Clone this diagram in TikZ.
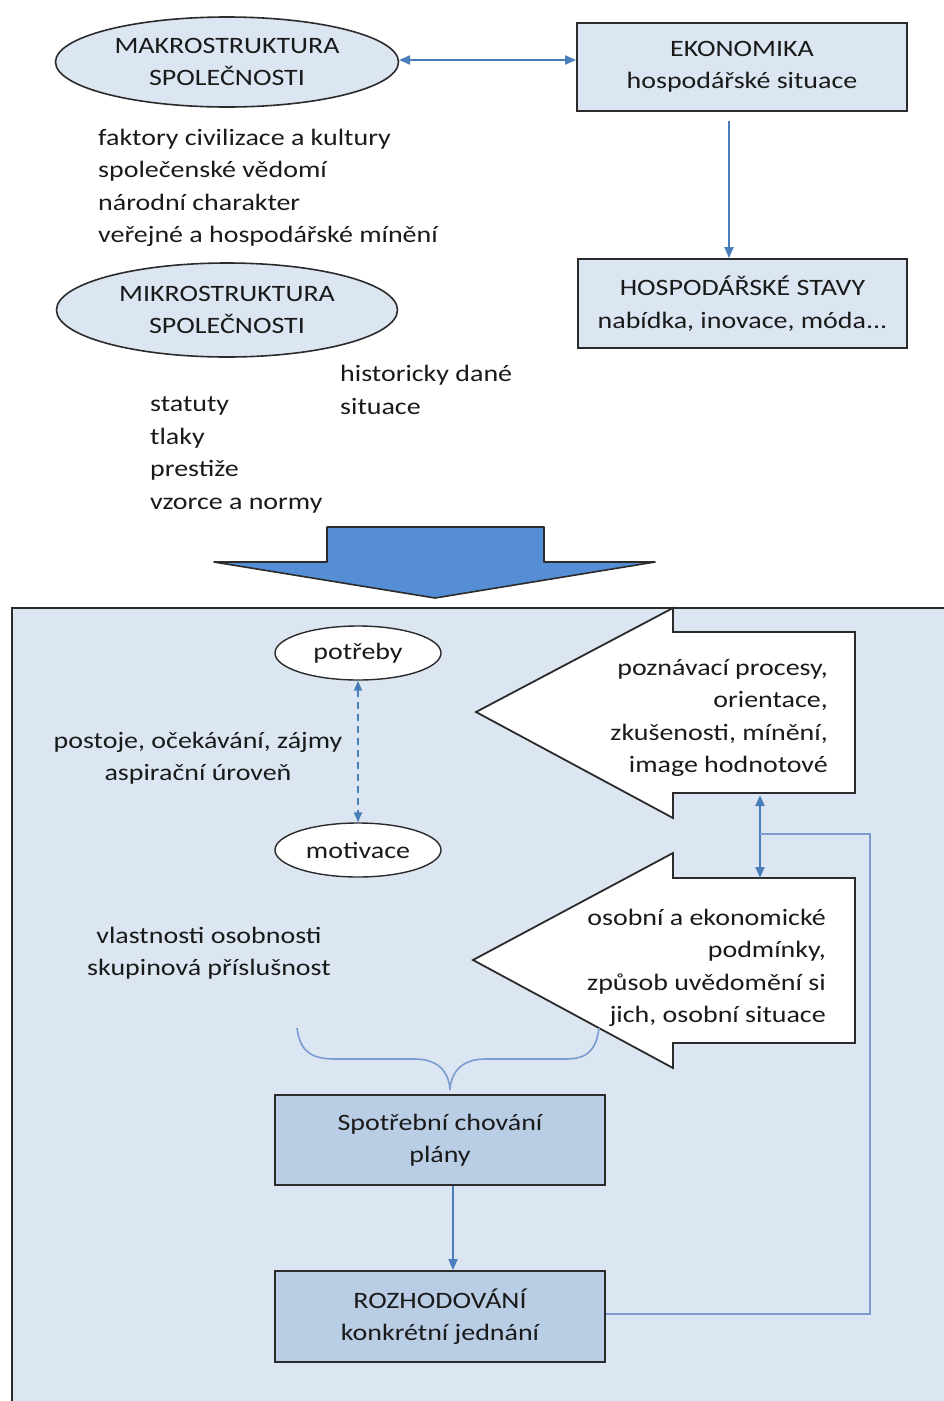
\documentclass[tikz,border=0pt]{standalone}
\usepackage{fontspec}
\setmainfont[FakeStretch=1.19]{Carlito}
\usetikzlibrary{shapes.geometric,arrows.meta}
\definecolor{paleblue}{HTML}{DCE6F2}
\definecolor{midblue}{HTML}{B9CDE5}
\definecolor{linkblue}{HTML}{4A7EBB}
\definecolor{thinblue}{HTML}{7A9CD0}
\definecolor{bigarrow}{HTML}{558ED5}
\definecolor{edge}{HTML}{2B2B2B}
\definecolor{ink}{HTML}{1A1A1A}
\tikzset{
  txt/.style={font=\fontsize{23.5}{32.5}\selectfont, text=ink, inner sep=0pt},
  oval/.style={ellipse, draw=edge, line width=1.6pt, fill=paleblue, txt, align=center},
  whiteoval/.style={ellipse, draw=edge, line width=1.4pt, fill=white, txt, minimum width=166pt, minimum height=54pt},
  panel/.style={rectangle, draw=edge, line width=1.8pt, fill=paleblue, txt, align=center},
  darkpanel/.style={panel, fill=midblue},
  link/.style={draw=linkblue, line width=2pt, -{Triangle[length=11pt,width=9pt]}},
  biglink/.style={draw=linkblue, line width=2pt, {Triangle[length=11pt,width=9pt]}-{Triangle[length=11pt,width=9pt]}},
  headarrow/.style={draw=edge, line width=1.8pt, fill=white, line join=miter}
}
\begin{document}
\begin{tikzpicture}[x=1pt, y=-1pt]
\useasboundingbox (0,0) rectangle (944,1401);
\fill[white] (0,0) rectangle (944,1401);

% upper part: society and economy
\node[oval, minimum width=343pt, minimum height=90pt] (makro) at (227,62)
  {\fontsize{23.5}{30}\selectfont MAKROSTRUKTURA\\SPOLEČNOSTI};
\node[panel, minimum width=330pt, minimum height=88pt] (ekon) at (742,67)
  {\fontsize{23.5}{33}\selectfont EKONOMIKA\\hospodářské situace};
\node[panel, minimum width=329pt, minimum height=89pt] (hosp) at (742.5,303.5)
  {\fontsize{23.5}{35}\selectfont HOSPODÁŘSKÉ STAVY\\nabídka, inovace, móda...};
\node[oval, minimum width=341pt, minimum height=94pt] (mikro) at (227,310)
  {\fontsize{23.5}{30}\selectfont MIKROSTRUKTURA\\SPOLEČNOSTI};

\node[txt, anchor=west, align=left] (faktory) at (98,188)
  {faktory civilizace a kultury\\společenské vědomí\\národní charakter\\veřejné a hospodářské mínění};
\node[txt, anchor=west, align=left] (hist) at (340,390)
  {historicky dané\\situace};
\node[txt, anchor=west, align=left] (statuty) at (150,455)
  {statuty\\tlaky\\prestiže\\vzorce a normy};

\coordinate (mkE) at (399,60);
\draw[biglink] (mkE) -- (ekon.west |- mkE);
\coordinate (ekbot) at (729,121);
\draw[link] (ekbot) -- (hosp.north -| ekbot);

% broad arrow into the consumer panel
\filldraw[fill=bigarrow, draw=edge, line width=1.6pt, line join=round]
  (327,527) -- (544,527) -- (544,562) -- (655,562) -- (435,598)
  -- (214,562) -- (327,562) -- cycle;

% consumer panel
\node[panel, anchor=north west, minimum width=960pt, minimum height=810pt] (panel) at (11,607) {};

\node[whiteoval] (potreby) at (358,653) {potřeby};
\node[whiteoval] (motiv) at (358,850) {motivace};
\draw[link, dashed, dash pattern=on 7pt off 5pt, line width=1.8pt,
  {Triangle[length=10pt,width=8pt]}-{Triangle[length=10pt,width=8pt]}] (potreby.south) -- (motiv.north);
\node[txt, align=center] (postoje) at (198,758)
  {postoje, očekávání, zájmy\\aspirační úroveň};

% left-pointing arrows with their texts
\filldraw[headarrow] (476,712) -- (673,608) -- (673,632) -- (855,632) -- (855,793)
  -- (673,793) -- (673,818) -- cycle;
\node[txt, anchor=east, align=right] (pozn) at (828,718)
  {poznávací procesy,\\orientace,\\zkušenosti, mínění,\\image hodnotové};
\filldraw[headarrow] (473,960) -- (673,853) -- (673,878) -- (855,878) -- (855,1043)
  -- (673,1043) -- (673,1068) -- cycle;
\node[txt, anchor=east, align=right] (osob) at (826,968)
  {osobní a ekonomické\\podmínky,\\způsob uvědomění si\\jich, osobní situace};

\coordinate (upA) at (760,795);
\coordinate (dnA) at (760,878);
\draw[biglink] (dnA) -- (upA);

\node[txt, align=center] (vlast) at (209,953)
  {vlastnosti osobnosti\\skupinová příslušnost};

% brace gathering the influences
\draw[draw=thinblue, line width=1.6pt]
  (297,1028) .. controls (300,1052) and (312,1059) .. (335,1059)
  -- (415,1059) .. controls (438,1059) and (449,1072) .. (450,1090)
  .. controls (451,1072) and (462,1059) .. (485,1059)
  -- (565,1059) .. controls (588,1059) and (596,1050) .. (599,1028);

\node[darkpanel, minimum width=330pt, minimum height=90pt] (spot) at (440,1140)
  {\fontsize{23.5}{33}\selectfont Spotřební chování\\plány};
\node[darkpanel, minimum width=330pt, minimum height=91pt] (rozh) at (440,1316.5)
  {\fontsize{23.5}{33}\selectfont ROZHODOVÁNÍ\\konkrétní jednání};
\draw[link] (spot.south -| 453,0) -- (rozh.north -| 453,0);

% feedback from decision back to the cognitive inputs
\coordinate (fbR) at (870,1314);
\coordinate (fbT) at (870,834);
\coordinate (fbL) at (760,834);
\draw[draw=thinblue, line width=1.6pt] (rozh.east |- fbR) -- (fbR) -- (fbT) -- (fbL);
\end{tikzpicture}
\end{document}
